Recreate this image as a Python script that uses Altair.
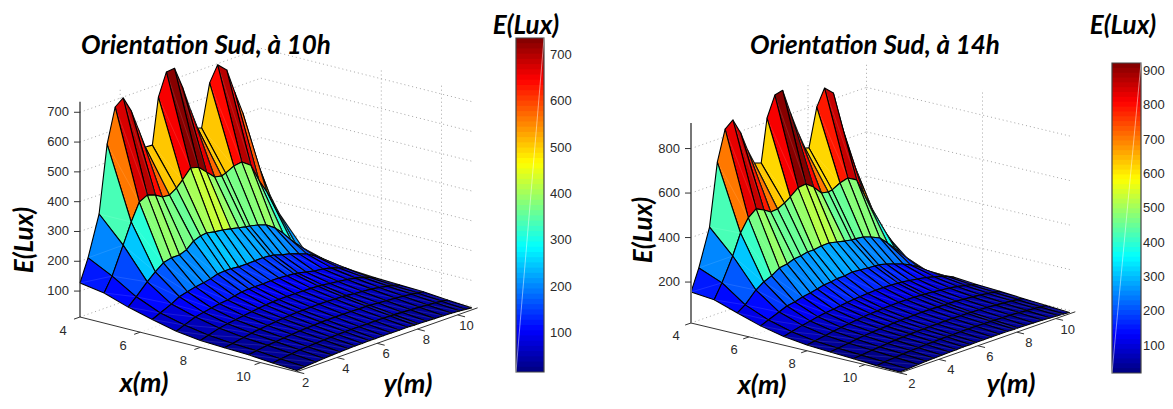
import altair as alt
import pandas as pd

# ---- values ----
x_nodes = [4, 4.8, 5.6, 6.4, 7.2, 8, 8.8, 9.6, 10.4, 11.2]
y_nodes = [2, 2.4, 2.95, 3.35, 3.75, 4.15, 4.55, 4.9, 5.25, 5.6, 5.9, 6.3, 6.7, 7.1, 7.5, 7.85, 8.05, 8.45, 8.85, 9.3, 9.7, 10.1, 10.4, 10.7]

E_10h = [
    [127,202,336,561,676,697,644,575,506,504,658,733,736,663,577,508,503,645,696,668,584,505,407,316],
    [114,161,252,320,377,391,382,367,365,380,400,431,424,398,372,367,372,386,390,369,309,260,216,175],
    [87,112,149,173,194,201,201,210,231,240,243,237,234,228,222,217,215,209,200,179,152,119,92,78],
    [66,78,95,110,117,124,128,133,141,143,143,140,140,141,142,140,138,129,123,112,102,86,72,55],
    [47,58,72,78,83,88,91,96,101,103,103,103,104,104,102,100,98,92,86,82,76,66,59,45],
    [36,44,55,60,64,68,72,75,78,80,81,81,81,81,80,79,78,74,71,67,62,55,48,39],
    [32,37,44,49,53,56,59,61,63,65,65,66,66,66,65,64,63,60,58,55,51,46,41,36],
    [29,33,38,41,44,46,48,50,51,52,53,53,53,53,52,52,51,49,47,45,42,39,36,33],
    [22,26,30,33,35,37,38,39,40,41,41,41,41,41,41,40,40,38,37,35,33,31,29,26],
    [17,20,23,25,27,28,29,30,30,31,31,31,31,31,31,30,30,29,28,27,26,24,22,20],
]
E_14h = [
    [155,251,418,698,834,863,792,705,636,625,818,909,918,804,702,624,618,789,863,827,675,537,438,348],
    [145,209,313,404,460,488,471,451,454,470,488,517,522,496,457,451,454,473,483,461,381,306,238,184],
    [111,135,185,209,224,247,253,265,268,275,275,281,282,274,266,260,259,255,243,225,190,151,119,92],
    [78,92,111,126,132,142,148,155,162,165,170,171,176,173,170,168,167,159,147,133,116,95,73,50],
    [55,64,76,83,90,96,100,105,109,113,115,117,119,119,118,116,115,110,104,97,88,78,68,56],
    [42,48,56,62,67,72,76,80,83,85,87,88,89,89,88,87,86,83,79,75,69,62,56,48],
    [35,40,46,51,55,58,61,63,66,67,68,69,70,70,69,68,68,66,63,60,56,51,47,42],
    [30,34,39,42,45,48,50,52,53,54,55,55,56,56,55,55,54,53,51,48,45,42,39,35],
    [24,28,32,35,37,39,41,42,43,44,44,45,45,45,44,44,43,42,41,39,36,33,31,28],
    [20,22,25,27,29,30,31,32,33,33,34,34,34,34,34,33,33,32,31,30,28,26,24,22],
]
x_ticks = [4, 6, 8, 10]
y_ticks = [2, 4, 6, 8, 10]
z_ticks_10h = [100, 200, 300, 400, 500, 600, 700]
z_ticks_14h = [200, 400, 600, 800]
cb_ticks_10h = [100, 200, 300, 400, 500, 600, 700]
cb_ticks_14h = [100, 200, 300, 400, 500, 600, 700, 800, 900]

# ---- view set-up for the two 3-D boxes and colour bars ----
V10 = dict(u0=80, v0=317, ux=30.1, vx=7.6, uy=20.1, vy=7.1, vz=0.298, z0=13, ztop=735,
           lo=16, hi=737, cbx=(516, 544), cby=(372, 38), xwall=11.0, cbgap=6,
           wall_x=[8, 10], wall_y=[4],
           xlab=(-17, 14), ylab=(9, 11), zcolor="#222222", zwidth=1.2)
V14 = dict(u0=691, v0=323, ux=29.0, vx=6.94, uy=19.5, vy=6.8, vz=0.2225, z0=16, ztop=915,
           lo=21, hi=923, cbx=(1112, 1141), cby=(373, 63), xwall=11.1, cbgap=2,
           wall_x=[4, 8], wall_y=[8],
           xlab=(-15, 13), ylab=(12, 11), zcolor="#777777", zwidth=2)


def proj(V, x, y, z):
    return (V["u0"] + (x - 4) * V["ux"] + (y - 2) * V["uy"],
            V["v0"] + (x - 4) * V["vx"] - (y - 2) * V["vy"] - (z - V["z0"]) * V["vz"])


def jet(n=64):
    def f(t):
        return max(0.0, min(1.0, 1.5 - abs(4 * t - 2)))
    out = []
    for k in range(n):
        t = (k + 0.5) / n
        r, g, b = f(t - 0.25), f(t), f(t + 0.25)
        out.append("#%02x%02x%02x" % (round(r * 255), round(g * 255), round(b * 255)))
    return out


polys, grid, floor, solid, ticks, labels, bands, frames = [], [], [], [], [], [], [], []


def add_panel(name, V, E, zt, cbt):
    pid = 0
    # painter's order: back corner first
    for i in range(len(x_nodes) - 1):
        for j in range(len(y_nodes) - 2, -1, -1):
            t = (E[i][j] - V["lo"]) / (V["hi"] - V["lo"])
            corners = [(i, j), (i + 1, j), (i + 1, j + 1), (i, j + 1), (i, j)]
            for o, (a, b) in enumerate(corners):
                u, v = proj(V, x_nodes[a], y_nodes[b], E[a][b])
                polys.append(dict(pid=f"{name}{pid:04d}", o=o, u=u, v=v, t=t,
                                  s="#000000", w=1.1, so=1.0))
            pid += 1
            # the pale diagonal seen across each facet
            for o, (a, b) in enumerate([(i, j), (i + 1, j + 1)]):
                u, v = proj(V, x_nodes[a], y_nodes[b], E[a][b])
                polys.append(dict(pid=f"{name}{pid:04d}", o=o, u=u, v=v, t=t,
                                  s="#ffffff", w=0.5, so=0.22))
            pid += 1
    xa, xb, ya, yb = 4, 11.2, 2, 11
    xw = V["xwall"]
    gid = 0

    def seg(store, p, q, **kw):
        nonlocal gid
        (ua, va), (ub, vb) = proj(V, *p), proj(V, *q)
        store.append(dict(gid=f"{name}{gid}", o=0, u=ua, v=va, **kw))
        store.append(dict(gid=f"{name}{gid}", o=1, u=ub, v=vb, **kw))
        gid += 1

    z0, zt_max = V["z0"], V["ztop"]
    for z in zt:
        seg(grid, (xa, ya, z), (xa, yb, z))
        seg(grid, (xa, yb, z), (xw, yb, z))
    for y in V["wall_y"]:
        seg(grid, (xa, y, z0), (xa, y, zt_max))
    for x in V["wall_x"]:
        seg(grid, (x, yb, z0), (x, yb, zt_max))
    seg(grid, (xa, ya, z0), (xa, yb, z0))
    seg(grid, (xa, yb, z0), (xw, yb, z0))
    for y in y_ticks[1:]:
        seg(floor, (xa, y, z0), (xb, y, z0))
    for x in x_ticks[1:]:
        seg(floor, (x, ya, z0), (x, yb, z0))

    seg(solid, (xa, ya, z0), (xb, ya, z0), c="#333333", w=1)
    seg(solid, (xb, ya, z0), (xb, yb, z0), c="#333333", w=1)
    seg(solid, (xa, ya, z0), (xa, ya, zt_max), c=V["zcolor"], w=V["zwidth"])

    for z in zt:
        u, v = proj(V, xa, ya, z)
        ticks.append(dict(gid=f"{name}z{z}", o=0, u=u, v=v))
        ticks.append(dict(gid=f"{name}z{z}", o=1, u=u - 6, v=v))
        labels.append(dict(u=u - 11, v=v, s=str(z), a="right"))
    for x in x_ticks:
        (ua, va), (ub, vb) = proj(V, x, ya, z0), proj(V, x, ya - 0.3, z0)
        ticks.append(dict(gid=f"{name}x{x}", o=0, u=ua, v=va))
        ticks.append(dict(gid=f"{name}x{x}", o=1, u=ub, v=vb))
        labels.append(dict(u=ua + V["xlab"][0], v=va + V["xlab"][1], s=str(x), a="center"))
    for y in y_ticks:
        (ua, va), (ub, vb) = proj(V, xb, y, z0), proj(V, xb + 0.25, y, z0)
        ticks.append(dict(gid=f"{name}y{y}", o=0, u=ua, v=va))
        ticks.append(dict(gid=f"{name}y{y}", o=1, u=ub, v=vb))
        labels.append(dict(u=ua + V["ylab"][0], v=va + V["ylab"][1], s=str(y), a="center"))

    # colour bar: each band overlaps the next so no seams show
    (xl, xr), (yb_, yt_) = V["cbx"], V["cby"]
    n = 64
    for k in range(n):
        top = yb_ + (yt_ - yb_) * (k + 1) / n
        bands.append(dict(u=xl, u2=xr, v=yb_ + (yt_ - yb_) * k / n, v2=max(yt_, top - 1),
                          t=(k + 0.5) / n))
    frames.append(dict(u=xl, u2=xr, v=yb_, v2=yt_))
    for c in cbt:
        v = yb_ + (c - V["lo"]) / (V["hi"] - V["lo"]) * (yt_ - yb_)
        ticks.append(dict(gid=f"{name}c{c}", o=0, u=xr, v=v))
        ticks.append(dict(gid=f"{name}c{c}", o=1, u=xr - 3, v=v))
        labels.append(dict(u=xr + V["cbgap"], v=v, s=str(c), a="left"))


add_panel("a", V10, E_10h, z_ticks_10h, cb_ticks_10h)
add_panel("b", V14, E_14h, z_ticks_14h, cb_ticks_14h)

titles = [
    dict(u=206, v=46, s="Orientation Sud, à 10h", r=0, f=26),
    dict(u=875, v=46, s="Orientation Sud, à 14h", r=0, f=26),
    dict(u=526, v=26, s="E(Lux)", r=0, f=26),
    dict(u=1123, v=26, s="E(Lux)", r=0, f=26),
    dict(u=25, v=240, s="E(Lux)", r=270, f=26),
    dict(u=644, v=230, s="E(Lux)", r=270, f=26),
    dict(u=144, v=384, s="x(m)", r=0, f=27),
    dict(u=762, v=386, s="x(m)", r=0, f=27),
    dict(u=408, v=385, s="y(m)", r=0, f=27),
    dict(u=1011, v=385, s="y(m)", r=0, f=27),
]

W, H = 1157, 393
X = alt.X("u:Q", scale=alt.Scale(domain=[8, 8 + W], nice=False, zero=False), axis=None)
Y = alt.Y("v:Q", scale=alt.Scale(domain=[8 + H, 8], nice=False, zero=False), axis=None)
FILL = alt.Fill("t:Q", scale=alt.Scale(type="quantize", domain=[0, 1], range=jet()), legend=None)

grid_l = alt.Chart(pd.DataFrame(grid)).mark_line(strokeDash=[1, 3], strokeWidth=1, color="#a6a6a6").encode(
    x=X, y=Y, detail="gid:N", order="o:Q")
floor_l = alt.Chart(pd.DataFrame(floor)).mark_line(strokeDash=[1, 3], strokeWidth=1, color="#e2e2e2").encode(
    x=X, y=Y, detail="gid:N", order="o:Q")
surf = alt.Chart(pd.DataFrame(polys)).mark_line(filled=True, strokeJoin="round").encode(
    x=X, y=Y, detail="pid:N", order="o:Q", fill=FILL,
    stroke=alt.Stroke("s:N", scale=None),
    strokeWidth=alt.StrokeWidth("w:Q", scale=None),
    strokeOpacity=alt.StrokeOpacity("so:Q", scale=None))
solid_l = alt.Chart(pd.DataFrame(solid)).mark_line().encode(
    x=X, y=Y, detail="gid:N", order="o:Q",
    color=alt.Color("c:N", scale=None), strokeWidth=alt.StrokeWidth("w:Q", scale=None))
tick_l = alt.Chart(pd.DataFrame(ticks)).mark_line(color="#333333", strokeWidth=1).encode(
    x=X, y=Y, detail="gid:N", order="o:Q")
band_r = alt.Chart(pd.DataFrame(bands)).mark_rect().encode(
    x=X, x2="u2:Q", y=Y, y2="v2:Q", fill=FILL)
frame_r = alt.Chart(pd.DataFrame(frames)).mark_rect(fill=None, stroke="#444444", strokeWidth=1.2).encode(
    x=X, x2="u2:Q", y=Y, y2="v2:Q")
diag = alt.Chart(pd.DataFrame(frames)).mark_rule(color="#ffffff", strokeWidth=0.8, opacity=0.6).encode(
    x=X, x2="u2:Q", y=Y, y2="v2:Q")
lab_parts = [
    alt.Chart(pd.DataFrame([l for l in labels if l["a"] == a])).mark_text(
        font="Liberation Sans", fontSize=13, color="#2a2a2a", baseline="middle", align=a).encode(x=X, y=Y, text="s:N")
    for a in ("left", "center", "right")
]
ttl_parts = [
    alt.Chart(pd.DataFrame([t for t in titles if t["r"] == r])).mark_text(
        font="Lato", fontWeight="bold", fontStyle="italic", color="#000000",
        baseline="middle", align="center", angle=r).encode(
            x=X, y=Y, text="s:N", size=alt.Size("f:Q", scale=None))
    for r in (0, 270)
]

chart = alt.layer(floor_l, grid_l, surf, solid_l, tick_l, band_r, frame_r, diag, *lab_parts, *ttl_parts).properties(
    width=W, height=H, padding=0, background="#ffffff",
    autosize=alt.AutoSizeParams(type="none")
).configure_view(stroke=None)

chart.save("out.html", embed_options={"renderer": "svg", "actions": False})
